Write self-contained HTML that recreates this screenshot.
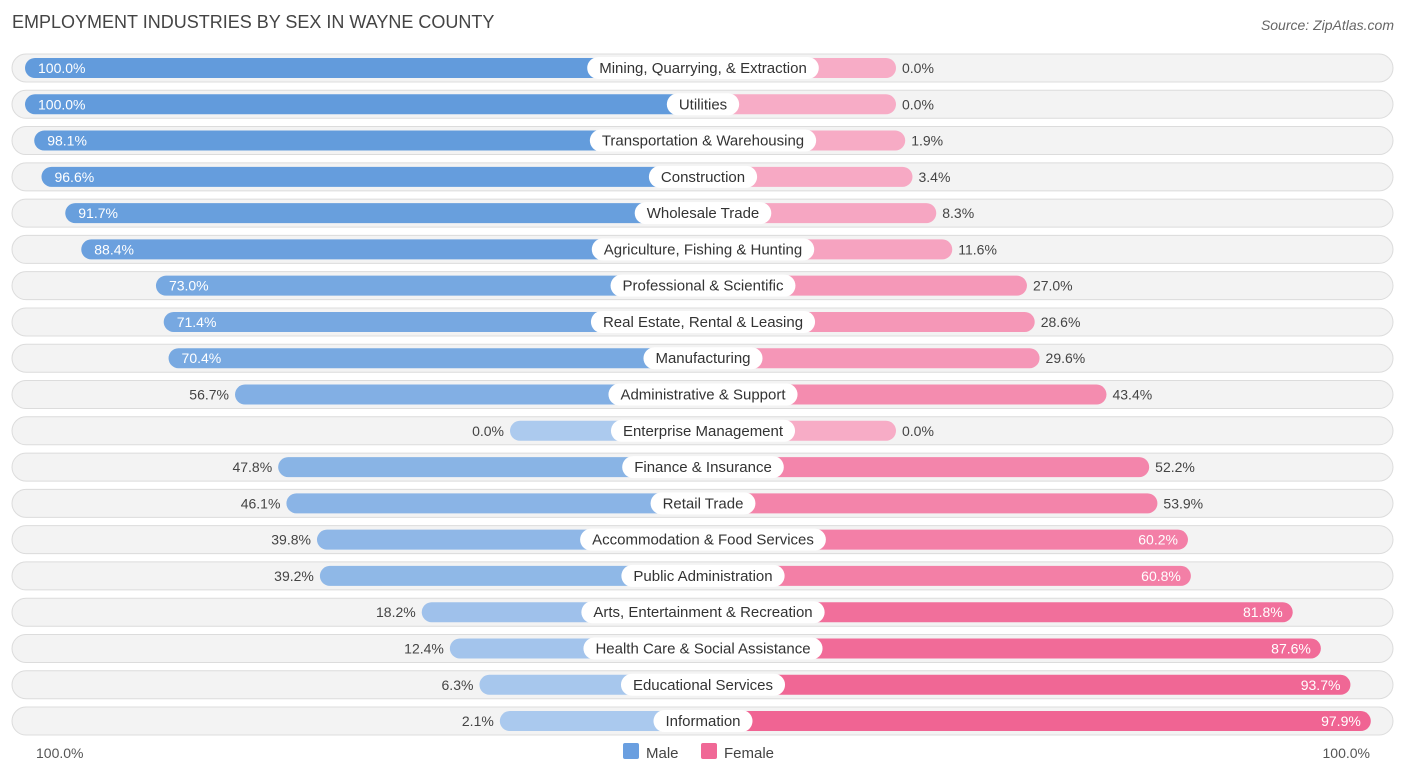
<!DOCTYPE html>
<html><head><meta charset="utf-8"><style>
body{margin:0;background:#fff;font-family:"Liberation Sans",sans-serif;}
svg text{font-family:"Liberation Sans",sans-serif;}
</style></head><body>
<svg id="c" width="1406" height="776" xmlns="http://www.w3.org/2000/svg">
<text x="12" y="28" font-size="18" fill="#444">EMPLOYMENT INDUSTRIES BY SEX IN WAYNE COUNTY</text>
<text x="1394" y="30" font-size="14" fill="#666" font-style="italic" text-anchor="end">Source: ZipAtlas.com</text>
<g id="rows"></g>
<text x="36" y="758" font-size="14" fill="#555">100.0%</text>
<text x="1370" y="758" font-size="14" fill="#555" text-anchor="end">100.0%</text>
<rect x="623" y="743" width="16" height="16" rx="2" fill="#6a9fe0"/>
<text x="646" y="758" font-size="15" fill="#444">Male</text>
<rect x="701" y="743" width="16" height="16" rx="2" fill="#f06896"/>
<text x="724" y="758" font-size="15" fill="#444">Female</text>
</svg>
<script>
const categories=["Mining, Quarrying, & Extraction","Utilities","Transportation & Warehousing","Construction","Wholesale Trade","Agriculture, Fishing & Hunting","Professional & Scientific","Real Estate, Rental & Leasing","Manufacturing","Administrative & Support","Enterprise Management","Finance & Insurance","Retail Trade","Accommodation & Food Services","Public Administration","Arts, Entertainment & Recreation","Health Care & Social Assistance","Educational Services","Information"];
const maleValues=[100,100,98.1,96.6,91.7,88.4,73.0,71.4,70.4,56.7,0,47.8,46.1,39.8,39.2,18.2,12.4,6.3,2.1];
const femaleValues=[0,0,1.9,3.4,8.3,11.6,27.0,28.6,29.6,43.4,0,52.2,53.9,60.2,60.8,81.8,87.6,93.7,97.9];
const NS="http://www.w3.org/2000/svg";
const g=document.getElementById('rows');
const cx=703, base=193, k=4.85;
function x(v){return base+v*k;}
function y(i){return 68+i*36.28;}
function mix(a,b,t){return 'rgb('+a.map((c,j)=>Math.round(c+(b[j]-c)*t)).join(',')+')';}
function el(tag,attrs,parent){const e=document.createElementNS(NS,tag);for(const a in attrs)e.setAttribute(a,attrs[a]);parent.appendChild(e);return e;}
categories.forEach((c,i)=>{
  const yy=y(i);
  const row=el('g',{},g);
  
  
  const bg=el('rect',{x:12,y:yy-14,width:1381,height:28,rx:14,fill:'#f3f3f3',stroke:'#dcdcdc','stroke-width':1},row);
  
  
  const m=maleValues[i],f=femaleValues[i];
  const mw=x(m), fw=x(f);
  const mb=el('rect',{x:cx-mw,y:yy-10,width:mw,height:20,rx:10,fill:mix([172,202,238],[98,155,220],m/100)},row);
  
  
  const fb=el('rect',{x:cx,y:yy-10,width:fw,height:20,rx:10,fill:mix([247,172,198],[240,98,146],f/100)},row);
  
  
  const lab=el('text',{x:cx,y:yy+5,'font-size':15,fill:'#333','text-anchor':'middle'},row);
  lab.textContent=c;
  
  
  const w=lab.getComputedTextLength()+24;
  const pill=el('rect',{x:cx-w/2,y:yy-11,width:w,height:22,rx:11,fill:'#fff'},row);
  
  
  row.appendChild(lab);
  const mt=el('text',{'font-size':14,y:yy+5},row);
  mt.textContent=m.toFixed(1)+'%';
  
  
  if(m>=60){mt.setAttribute('x',cx-mw+13);mt.setAttribute('fill','#fff');}
  else{mt.setAttribute('x',cx-mw-6);mt.setAttribute('fill','#444');mt.setAttribute('text-anchor','end');}
  const ft=el('text',{'font-size':14,y:yy+5},row);
  ft.textContent=f.toFixed(1)+'%';
  
  
  if(f>=60){ft.setAttribute('x',cx+fw-10);ft.setAttribute('fill','#fff');ft.setAttribute('text-anchor','end');}
  else{ft.setAttribute('x',cx+fw+6);ft.setAttribute('fill','#444');}
});
</script>
</body></html>
